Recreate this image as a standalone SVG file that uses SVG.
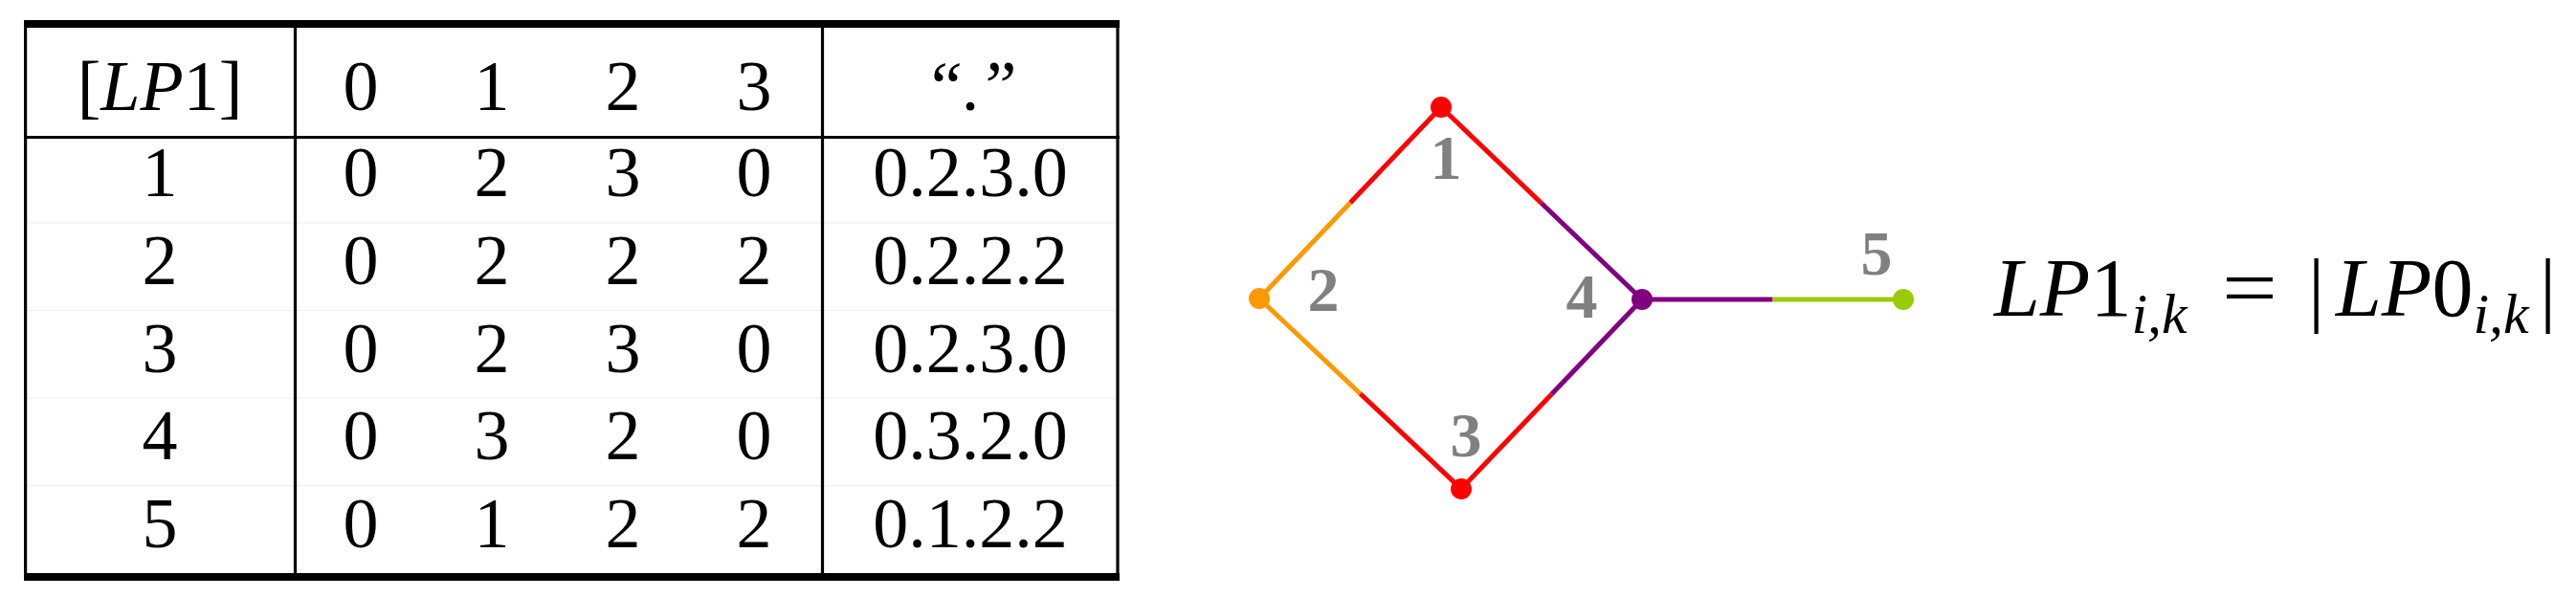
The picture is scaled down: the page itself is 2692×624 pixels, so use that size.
<svg xmlns="http://www.w3.org/2000/svg" width="2692" height="624" viewBox="0 0 2692 624">
<style>
.t{font-family:"Liberation Serif","Times New Roman",serif;font-size:74px;fill:#000;text-anchor:middle}
.i{font-style:italic}
.lbl{font-family:"Liberation Serif","Times New Roman",serif;font-size:66px;font-weight:bold;fill:#808080;text-anchor:middle}
.f{font-family:"Liberation Serif","Times New Roman",serif;font-size:86px;fill:#000}
.sub{font-size:60px;font-style:italic}
.rule{fill:#000}
.vl{stroke:#000;stroke-width:3.2}
.faint{stroke:#efefef;stroke-width:1}
.e{stroke-width:5;fill:none;stroke-linecap:butt}
.red{stroke:#ff0000}.org{stroke:#ff9900}.pur{stroke:#800080}.grn{stroke:#99cc00}
</style>
<rect width="2692" height="624" fill="#fff"/>
<g id="table">
  <g id="table-lines">
    <line class="faint" x1="28" y1="233" x2="1167" y2="233"/>
    <line class="faint" x1="28" y1="324.5" x2="1167" y2="324.5"/>
    <line class="faint" x1="28" y1="416" x2="1167" y2="416"/>
    <line class="faint" x1="28" y1="507.5" x2="1167" y2="507.5"/>
    <rect class="rule" x="25" y="21" width="1145" height="8"/>
    <rect class="rule" x="25" y="599" width="1145" height="8"/>
    <line class="vl" x1="26.6" y1="29" x2="26.6" y2="599"/>
    <line class="vl" x1="308.5" y1="29" x2="308.5" y2="599"/>
    <line class="vl" x1="859.5" y1="29" x2="859.5" y2="599"/>
    <line class="vl" x1="1168" y1="29" x2="1168" y2="599" stroke-width="3.6"/>
    <line class="vl" x1="25" y1="143.5" x2="1170" y2="143.5"/>
  </g>
  <g id="table-header">
    <text class="t" x="167" y="115">[<tspan class="i">LP</tspan>1]</text>
    <text class="t" x="377" y="115">0</text>
    <text class="t" x="514" y="115">1</text>
    <text class="t" x="651" y="115">2</text>
    <text class="t" x="788" y="115">3</text>
    <text class="t" y="115"><tspan class="i" x="986">“</tspan><tspan x="1014">.</tspan><tspan class="i" x="1042">”</tspan></text>
  </g>
  <g id="row-1">
    <text class="t" x="167" y="205">1</text>
    <text class="t" x="377" y="205">0</text><text class="t" x="514" y="205">2</text><text class="t" x="651" y="205">3</text><text class="t" x="788" y="205">0</text>
    <text class="t" x="1014" y="205">0.2.3.0</text>
  </g>
  <g id="row-2">
    <text class="t" x="167" y="297">2</text>
    <text class="t" x="377" y="297">0</text><text class="t" x="514" y="297">2</text><text class="t" x="651" y="297">2</text><text class="t" x="788" y="297">2</text>
    <text class="t" x="1014" y="297">0.2.2.2</text>
  </g>
  <g id="row-3">
    <text class="t" x="167" y="389">3</text>
    <text class="t" x="377" y="389">0</text><text class="t" x="514" y="389">2</text><text class="t" x="651" y="389">3</text><text class="t" x="788" y="389">0</text>
    <text class="t" x="1014" y="389">0.2.3.0</text>
  </g>
  <g id="row-4">
    <text class="t" x="167" y="480">4</text>
    <text class="t" x="377" y="480">0</text><text class="t" x="514" y="480">3</text><text class="t" x="651" y="480">2</text><text class="t" x="788" y="480">0</text>
    <text class="t" x="1014" y="480">0.3.2.0</text>
  </g>
  <g id="row-5">
    <text class="t" x="167" y="572">5</text>
    <text class="t" x="377" y="572">0</text><text class="t" x="514" y="572">1</text><text class="t" x="651" y="572">2</text><text class="t" x="788" y="572">2</text>
    <text class="t" x="1014" y="572">0.1.2.2</text>
  </g>
</g>
<g id="connectors">
  <line class="e red" x1="1506" y1="112" x2="1411" y2="212"/>
  <line class="e org" x1="1411" y1="212" x2="1316" y2="312"/>
  <line class="e red" x1="1506" y1="112" x2="1611" y2="212.5"/>
  <line class="e pur" x1="1611" y1="212.5" x2="1716" y2="313"/>
  <line class="e org" x1="1316" y1="312" x2="1421.5" y2="411.5"/>
  <line class="e red" x1="1421.5" y1="411.5" x2="1527" y2="511"/>
  <line class="e pur" x1="1716" y1="313" x2="1621.5" y2="412"/>
  <line class="e red" x1="1621.5" y1="412" x2="1527" y2="511"/>
  <line class="e pur" x1="1716" y1="313" x2="1852.5" y2="313"/>
  <line class="e grn" x1="1852.5" y1="313" x2="1989" y2="313"/>
</g>
<g id="node-1"><circle cx="1506" cy="112" r="11" fill="#ff0000"/><text class="lbl" x="1511" y="187">1</text></g>
<g id="node-2"><circle cx="1316" cy="312" r="11" fill="#ff9900"/><text class="lbl" x="1383" y="325">2</text></g>
<g id="node-3"><circle cx="1527" cy="511" r="11" fill="#ff0000"/><text class="lbl" x="1532" y="477">3</text></g>
<g id="node-4"><circle cx="1716" cy="313" r="11" fill="#800080"/><text class="lbl" x="1653" y="332">4</text></g>
<g id="node-5"><circle cx="1989" cy="313" r="11" fill="#99cc00"/><text class="lbl" x="1961" y="287">5</text></g>
<g id="formula">
  <text class="f" y="330"><tspan class="i" x="2084">LP</tspan>1<tspan class="sub" dy="18">i,k</tspan></text>
  <text class="f" x="2322" y="330" textLength="58" lengthAdjust="spacingAndGlyphs">=</text>
  <text class="f" x="2412" y="330">|</text>
  <text class="f" y="330"><tspan class="i" x="2441">LP</tspan>0<tspan class="sub" dy="18">i,k</tspan></text>
  <text class="f" x="2654" y="330">|</text>
</g>
</svg>
